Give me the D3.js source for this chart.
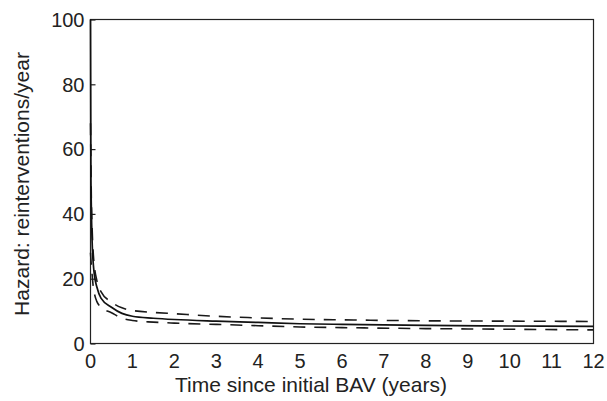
<!DOCTYPE html>
<html>
<head>
<meta charset="utf-8">
<script src="https://cdn.jsdelivr.net/npm/d3@7/dist/d3.min.js"></script>
<style>
  body { margin: 0; background: #fff; }
  svg text { font-family: "Liberation Sans", Arial, sans-serif; fill: #222; }
</style>
</head>
<body>
<svg id="chart" width="607" height="401"></svg>
<script>
// data
var years = [0, 0.01, 0.02, 0.04, 0.07, 0.1, 0.15, 0.25, 0.5, 0.75, 1, 1.5, 2, 3, 4, 5, 6, 8, 10, 12];
var hazard = [100, 52, 42, 31, 24, 20.5, 17.5, 14, 11.2, 9.3, 8.4, 7.8, 7.4, 6.9, 6.5, 6.1, 5.9, 5.6, 5.4, 5.3];
var upperCL = [68, 56, 45, 35, 27, 23, 19.5, 16, 12.8, 11, 10.2, 9.6, 9.2, 8.4, 7.9, 7.5, 7.3, 7.0, 6.9, 6.8];
var lowerCL = [28, 26, 24, 21, 17, 15, 13, 11.2, 9.5, 7.8, 7.1, 6.6, 6.3, 5.9, 5.5, 5.1, 4.9, 4.6, 4.4, 4.2];
var xTicks = [0, 1, 2, 3, 4, 5, 6, 7, 8, 9, 10, 11, 12];
var yTicks = [0, 20, 40, 60, 80, 100];

var svg = d3.select('#chart');
var plotL = 90.5, plotR = 593.5, plotT = 19.5, plotB = 343.5;

var x = d3.scaleLinear().domain([0, 12]).range([plotL, plotR]);
var y = d3.scaleLinear().domain([0, 100]).range([plotB, plotT]);

// plot frame
svg.append('rect')
    .attr('x', plotL).attr('y', plotT)
    .attr('width', plotR - plotL).attr('height', plotB - plotT)
    .attr('fill', 'none').attr('stroke', '#222').attr('stroke-width', 1.2);

// y axis, ticks point inward
var yAxis = svg.append('g')
    .attr('transform', 'translate(' + plotL + ',0)')
    .call(d3.axisRight(y).tickValues(yTicks).tickSize(5).tickFormat(''));
yAxis.select('.domain').remove();
yAxis.selectAll('line').attr('stroke', '#222').attr('stroke-width', 1.2);

svg.append('g').selectAll('text')
    .data(yTicks)
    .enter().append('text')
    .attr('x', plotL - 6)
    .attr('y', function(d) { return y(d); })
    .attr('dy', '0.36em')
    .attr('text-anchor', 'end')
    .style('font-size', '20px')
    .text(function(d) { return d; });

svg.append('g').selectAll('text')
    .data(xTicks)
    .enter().append('text')
    .attr('x', function(d) { return x(d); })
    .attr('y', 368)
    .attr('text-anchor', 'middle')
    .style('font-size', '20px')
    .text(function(d) { return d; });

// axis titles
svg.append('text')
    .attr('x', 311)
    .attr('y', 392)
    .attr('text-anchor', 'middle')
    .style('font-size', '21px')
    .text('Time since initial BAV (years)');

svg.append('text')
    .attr('transform', 'translate(29,' + 184 + ') rotate(-90)')
    .attr('text-anchor', 'middle')
    .style('font-size', '21px')
    .text('Hazard: reinterventions/year');

// curves
function lineFor(vals) {
    return d3.line()
        .x(function(d, i) { return x(years[i]); })
        .y(function(d) { return y(d); })
        .curve(d3.curveMonotoneX)(vals);
}

svg.append('path')
    .attr('d', lineFor(upperCL))
    .attr('fill', 'none').attr('stroke', '#1a1a1a')
    .attr('stroke-width', 1.6).attr('stroke-dasharray', '12,9');

svg.append('path')
    .attr('d', lineFor(lowerCL))
    .attr('fill', 'none').attr('stroke', '#1a1a1a')
    .attr('stroke-width', 1.6).attr('stroke-dasharray', '12,9');

svg.append('path')
    .attr('d', lineFor(hazard))
    .attr('fill', 'none').attr('stroke', '#111')
    .attr('stroke-width', 1.7);
</script>
</body>
</html>
